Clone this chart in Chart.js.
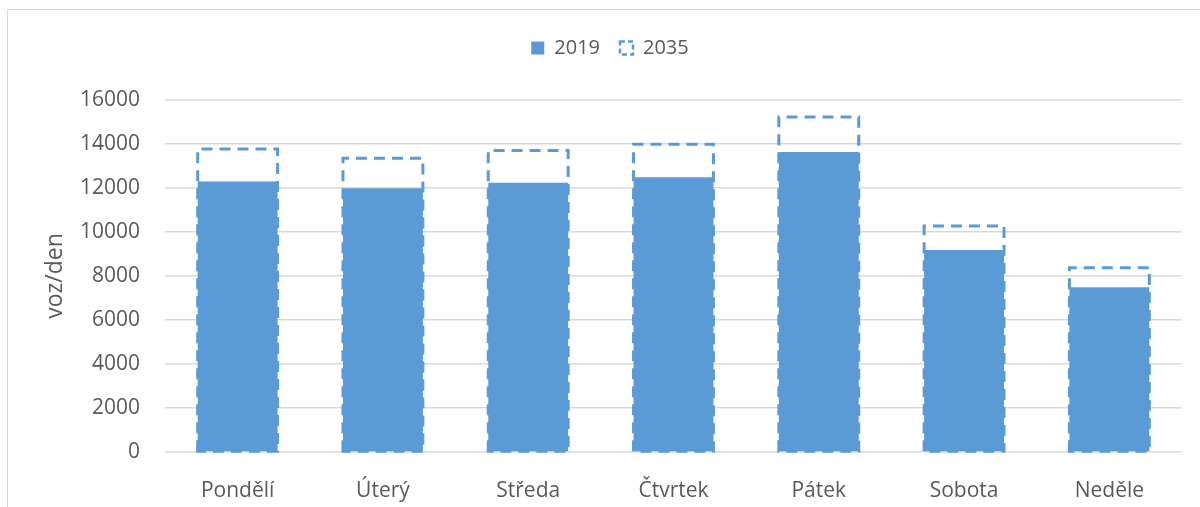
<!DOCTYPE html>
<html>
<head>
<meta charset="utf-8">
<script src="https://cdn.jsdelivr.net/npm/chart.js@4"></script>
<style>
  html, body { margin: 0; padding: 0; background: #fff; overflow: hidden; }
  #wrap { position: relative; width: 1200px; height: 507px; }
  #frame { position: absolute; left: 7px; top: 9px; width: 1300px; height: 600px; border: 1px solid #d9d9d9; }
  #chart2 { position: absolute; left: 0; top: 0; }
</style>
</head>
<body>
<div id="wrap">
  <div id="frame"></div>
  <canvas id="chart2" width="1200" height="507"></canvas>
</div>
<script>
var days = ['Pondělí', 'Úterý', 'Středa', 'Čtvrtek', 'Pátek', 'Sobota', 'Neděle']
var vals2019 = [12290, 11990, 12240, 12490, 13640, 9180, 7490]
var vals2035 = [13770, 13350, 13700, 13990, 15230, 10270, 8380]
var yTicks = [0, 2000, 4000, 6000, 8000, 10000, 12000, 14000, 16000]

var blue = '#5B9BD5'
var grey = '#595959'

// dashed outline for the 2035 bars (bar element has no borderDash)
var dashedBars = {
    id: 'dashedBars',
    beforeInit: function (chart) {
        var fit = chart.legend.fit
        chart.legend.fit = function () {
            fit.call(this)
            this.height = 82
        }
    },
    beforeDatasetsDraw: function (chart) {
        var meta = chart.getDatasetMeta(1)
        var c = chart.ctx
        c.save()
        c.strokeStyle = blue
        c.lineWidth = 3
        c.setLineDash([11, 7])
        for (var i = 0; i < meta.data.length; i++) {
            var p = meta.data[i].getProps(['x', 'y', 'base', 'width'], true)
            var l = p.x - p.width / 2
            var r = p.x + p.width / 2
            c.beginPath()
            c.moveTo(l, p.base)
            c.lineTo(l, p.y)
            c.lineTo(r, p.y)
            c.lineTo(r, p.base)
            c.closePath()
            c.stroke()
        }
        c.restore()
    }
}

var ctx = document.getElementById('chart2')
var chart2 = new Chart(ctx, {
    type: 'bar',
    data: {
        labels: days,
        datasets: [
            {
                label: '2019',
                data: vals2019,
                backgroundColor: blue,
                borderWidth: 0,
                grouped: false,
                order: 1
            },
            {
                label: '2035',
                data: vals2035,
                backgroundColor: 'rgba(0,0,0,0)',
                borderWidth: 0,
                grouped: false,
                order: 2
            }
        ]
    },
    options: {
        responsive: false,
        animation: false,
        devicePixelRatio: 1,
        layout: { padding: { left: 38, right: 18, top: 18, bottom: 0 } },
        datasets: { bar: { barPercentage: 0.55, categoryPercentage: 1 } },
        plugins: {
            tooltip: { enabled: false },
            legend: {
                position: 'top',
                labels: {
                    color: grey,
                    font: { family: 'Open Sans', size: 20 },
                    boxWidth: 13,
                    boxHeight: 13,
                    padding: 20,
                    generateLabels: function () {
                        return [
                            { text: '2019', fillStyle: blue, strokeStyle: blue, lineWidth: 0, datasetIndex: 0, fontColor: grey },
                            { text: '2035', fillStyle: 'rgba(0,0,0,0)', strokeStyle: blue, lineWidth: 2.5, lineDash: [5, 3], datasetIndex: 1, fontColor: grey }
                        ]
                    }
                }
            }
        },
        scales: {
            x: {
                grid: { display: false },
                border: { display: false },
                ticks: { color: grey, font: { family: 'Open Sans', size: 21 }, padding: 18 },
                afterFit: function (s) { s.height = 55 }
            },
            y: {
                min: 0,
                max: 16000,
                afterBuildTicks: function (s) { s.ticks = yTicks.map(function (v) { return { value: v } }) },
                grid: { color: '#d9d9d9', lineWidth: 1.5, drawTicks: false },
                border: { display: false },
                ticks: {
                    color: grey,
                    font: { family: 'Open Sans', size: 21 },
                    padding: 25,
                    callback: function (v) { return String(v) }
                },
                title: { display: true, text: 'voz/den', color: grey, font: { family: 'Open Sans', size: 23 } },
                afterFit: function (s) { s.width = 127 }
            }
        }
    },
    plugins: [dashedBars]
})
</script>
</body>
</html>
